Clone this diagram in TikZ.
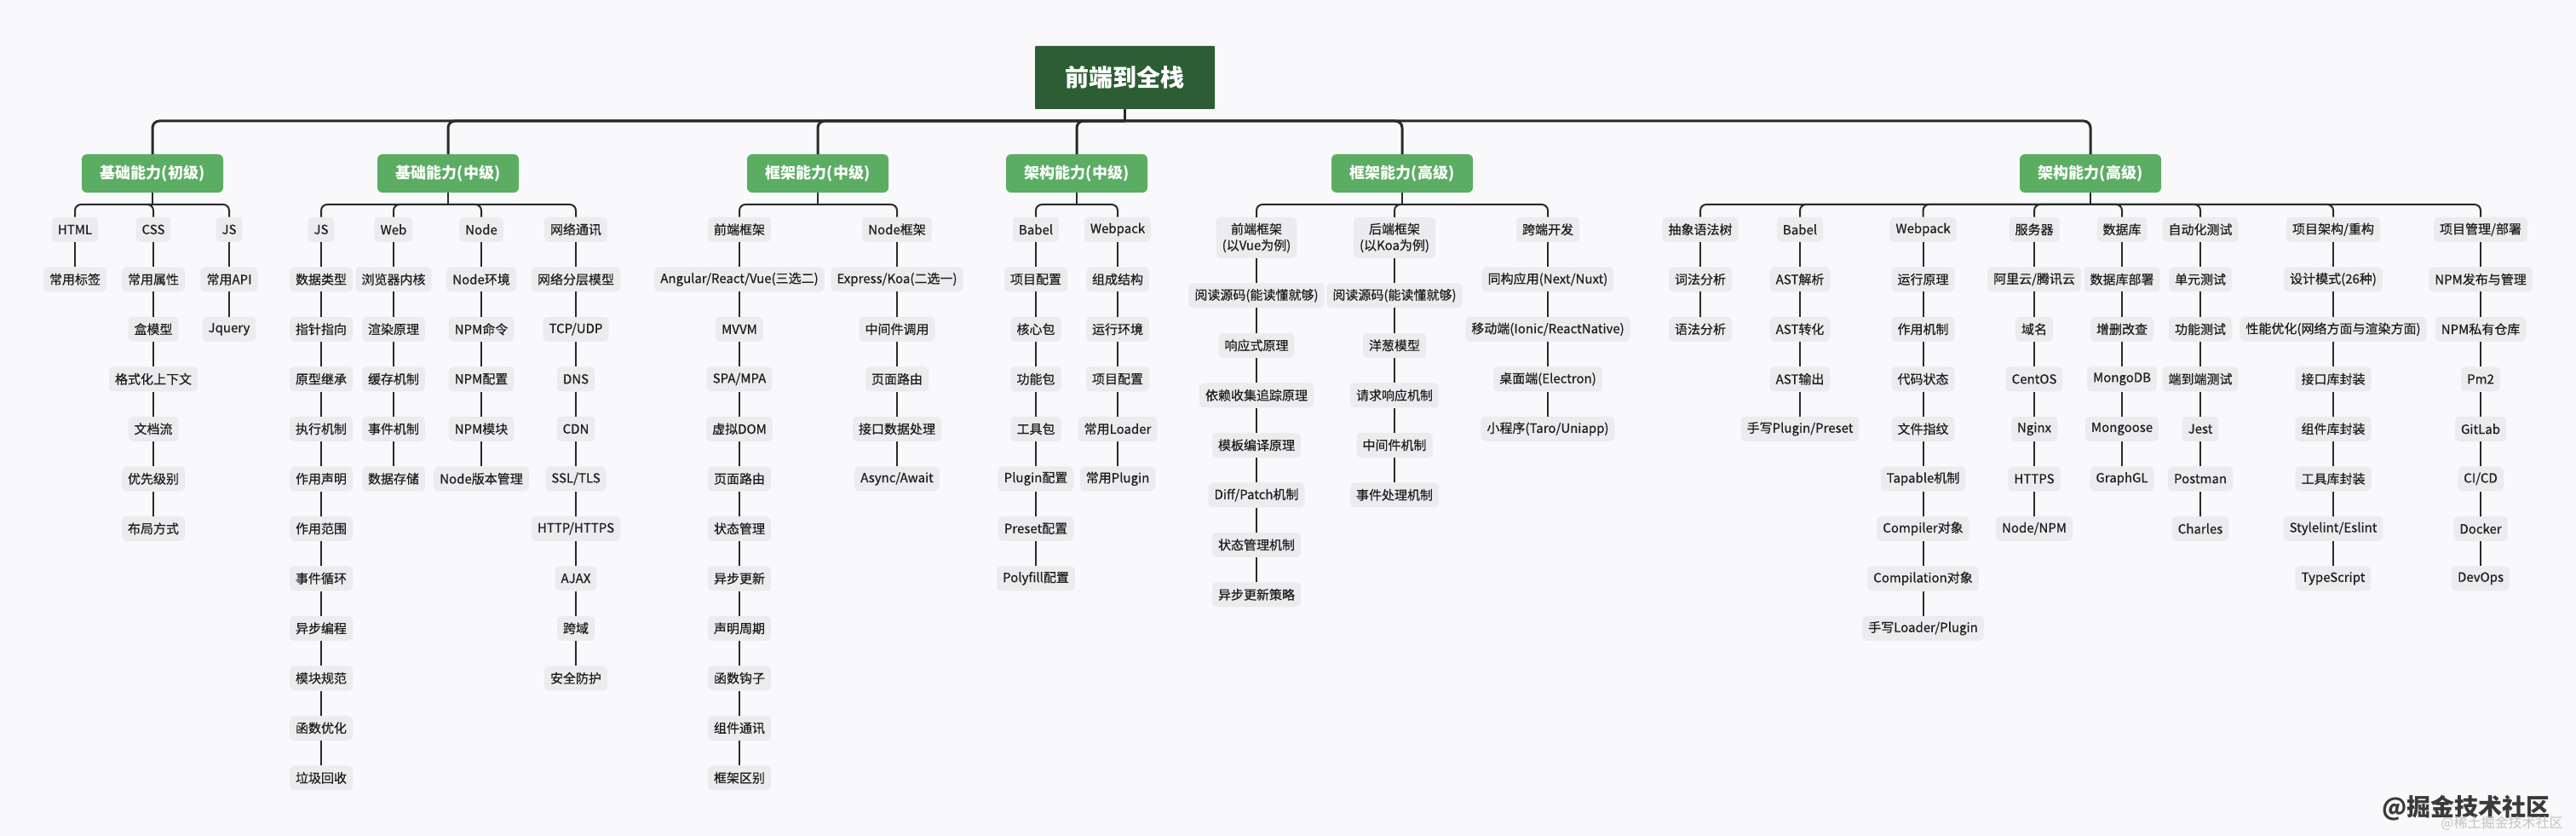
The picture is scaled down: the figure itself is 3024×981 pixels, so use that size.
\documentclass[tikz,border=0pt]{standalone}
\usepackage{fontspec}
\setmainfont{Noto Sans CJK SC}
\newfontfamily\leaffont[FakeBold=0.5]{Noto Sans CJK SC}
\definecolor{bgc}{HTML}{F9F8FA}
\definecolor{titlegreen}{HTML}{2D5E33}
\definecolor{lonegreen}{HTML}{5CAD64}
\definecolor{leafgray}{HTML}{ECEBEE}
\definecolor{linecol}{HTML}{2A2A2A}
\definecolor{textcol}{HTML}{1E1E1E}
\definecolor{wmgray}{HTML}{C4C4C4}
\definecolor{wmdark}{HTML}{3A3A3A}
\newcommand\mkcol[5]{%
  \foreach \t [count=\i] in {#5} {%
    \node[leaf] (#1-\i) at (#3,{#4+58.5*(\i-1)}) {\t};
    \ifnum\i=1\relax \draw[conn] (#2.south) -- (#1-\i.north);%
    \else \pgfmathtruncatemacro\j{\i-1}\draw[conn] (#1-\j.south) -- (#1-\i.north);\fi
  }%
}
\newcommand\mkhead[4]{%
  \node[leaf] (#1) at (#3,269.3) {#4};
  \draw[conn,rounded corners=7pt] (#2) -| (#1.north);%
}
\begin{document}
\begin{tikzpicture}[x=1pt,y=-1pt,
  leaf/.style={rectangle,rounded corners=5pt,fill=leafgray,text=textcol,
    font=\leaffont\fontsize{15}{19}\selectfont,inner xsep=7pt,inner ysep=0pt,minimum height=29pt},
  leaftwo/.style={leaf,align=center,minimum height=48pt,inner ysep=5pt},
  lone/.style={rectangle,rounded corners=6pt,fill=lonegreen,text=white,
    font=\bfseries\fontsize{18}{20}\selectfont,minimum width=166pt,minimum height=45pt},
  titlebox/.style={rectangle,rounded corners=1pt,fill=titlegreen,text=white,
    font=\bfseries\fontsize{28}{30}\selectfont,minimum width=211pt,minimum height=74pt},
  bus/.style={draw=linecol,line width=3pt},
  conn/.style={draw=linecol,line width=2pt}]
\useasboundingbox[fill=bgc] (0,0) rectangle (3024,981);

% title and level 1
\node[titlebox] (T) at (1320.5,91) {前端到全栈};
\coordinate (Tj) at (1320.5,142);
\draw[bus] (T.south) -- (Tj);
\foreach \n/\x/\s in {A/179/基础能力(初级),B/526/基础能力(中级),C/960/框架能力(中级),D/1264/架构能力(中级),E/1646/框架能力(高级),F/2454/架构能力(高级)}{
  \node[lone] (\n) at (\x,203.5) {\s};
  \draw[bus,rounded corners=8pt] (Tj) -| (\n.north);
  \coordinate (\n j) at (\x,240);
  \draw[conn] (\n.south) -- (\n j);
}

% A: 基础能力(初级)
\mkhead{A1}{Aj}{88}{HTML}
\mkhead{A2}{Aj}{180}{CSS}
\mkhead{A3}{Aj}{269}{JS}
\mkcol{A1}{A1}{88}{327.8}{常用标签}
\mkcol{A2}{A2}{180}{327.8}{常用属性,盒模型,格式化上下文,文档流,优先级别,布局方式}
\mkcol{A3}{A3}{269}{327.8}{常用API,Jquery}

% B: 基础能力(中级)
\mkhead{B1}{Bj}{377}{JS}
\mkhead{B2}{Bj}{462}{Web}
\mkhead{B3}{Bj}{565}{Node}
\mkhead{B4}{Bj}{676}{网络通讯}
\mkcol{B1}{B1}{377}{327.8}{数据类型,指针指向,原型继承,执行机制,作用声明,作用范围,事件循环,异步编程,模块规范,函数优化,垃圾回收}
\mkcol{B2}{B2}{462}{327.8}{浏览器内核,渲染原理,缓存机制,事件机制,数据存储}
\mkcol{B3}{B3}{565}{327.8}{Node环境,NPM命令,NPM配置,NPM模块,Node版本管理}
\mkcol{B4}{B4}{676}{327.8}{网络分层模型,TCP/UDP,DNS,CDN,SSL/TLS,HTTP/HTTPS,AJAX,跨域,安全防护}

% C: 框架能力(中级)
\mkhead{C1}{Cj}{868}{前端框架}
\mkhead{C2}{Cj}{1053}{Node框架}
\mkcol{C1}{C1}{868}{327.8}{Angular/React/Vue(三选二),MVVM,SPA/MPA,虚拟DOM,页面路由,状态管理,异步更新,声明周期,函数钩子,组件通讯,框架区别}
\mkcol{C2}{C2}{1053}{327.8}{Express/Koa(二选一),中间件调用,页面路由,接口数据处理,Async/Await}

% D: 架构能力(中级)
\mkhead{D1}{Dj}{1216}{Babel}
\mkhead{D2}{Dj}{1312}{Webpack}
\mkcol{D1}{D1}{1216}{327.8}{项目配置,核心包,功能包,工具包,Plugin配置,Preset配置,Polyfill配置}
\mkcol{D2}{D2}{1312}{327.8}{组成结构,运行环境,项目配置,常用Loader,常用Plugin}

% E: 框架能力(高级)
\node[leaftwo] (E1) at (1475,279) {前端框架\\(以Vue为例)};
\draw[conn,rounded corners=7pt] (Ej) -| (E1.north);
\node[leaftwo] (E2) at (1637,279) {后端框架\\(以Koa为例)};
\draw[conn,rounded corners=7pt] (Ej) -| (E2.north);
\mkhead{E3}{Ej}{1817}{跨端开发}
\mkcol{E1}{E1}{1475}{346.8}{阅读源码(能读懂就够),响应式原理,依赖收集追踪原理,模板编译原理,Diff/Patch机制,状态管理机制,异步更新策略}
\mkcol{E2}{E2}{1637}{346.8}{阅读源码(能读懂就够),洋葱模型,请求响应机制,中间件机制,事件处理机制}
\mkcol{E3}{E3}{1817}{327.8}{同构应用(Next/Nuxt),移动端(Ionic/ReactNative),桌面端(Electron),小程序(Taro/Uniapp)}

% F: 架构能力(高级)
\mkhead{F1}{Fj}{1996}{抽象语法树}
\mkhead{F2}{Fj}{2113}{Babel}
\mkhead{F3}{Fj}{2257.5}{Webpack}
\mkhead{F4}{Fj}{2388}{服务器}
\mkhead{F5}{Fj}{2491}{数据库}
\mkhead{F6}{Fj}{2583}{自动化测试}
\mkhead{F7}{Fj}{2739}{项目架构/重构}
\mkhead{F8}{Fj}{2912}{项目管理/部署}
\mkcol{F1}{F1}{1996}{327.8}{词法分析,语法分析}
\mkcol{F2}{F2}{2113}{327.8}{AST解析,AST转化,AST输出,手写Plugin/Preset}
\mkcol{F3}{F3}{2257.5}{327.8}{运行原理,作用机制,代码状态,文件指纹,Tapable机制,Compiler对象,Compilation对象,手写Loader/Plugin}
\mkcol{F4}{F4}{2388}{327.8}{阿里云/腾讯云,域名,CentOS,Nginx,HTTPS,Node/NPM}
\mkcol{F5}{F5}{2491}{327.8}{数据库部署,增删改查,MongoDB,Mongoose,GraphGL}
\mkcol{F6}{F6}{2583}{327.8}{单元测试,功能测试,端到端测试,Jest,Postman,Charles}
\mkcol{F7}{F7}{2739}{327.8}{设计模式(26种),性能优化(网络方面与渲染方面),接口库封装,组件库封装,工具库封装,Stylelint/Eslint,TypeScript}
\mkcol{F8}{F8}{2912}{327.8}{NPM发布与管理,NPM私有仓库,Pm2,GitLab,CI/CD,Docker,DevOps}

% watermark
\node[text=wmdark,font=\bfseries\fontsize{28}{30}\selectfont,inner sep=0pt] (wm1) at (2895,948) {@掘金技术社区};
\node[text=wmgray,font=\fontsize{16}{18}\selectfont,inner sep=0pt] (wm2) at (2937,966) {@稀土掘金技术社区};
\end{tikzpicture}
\end{document}
